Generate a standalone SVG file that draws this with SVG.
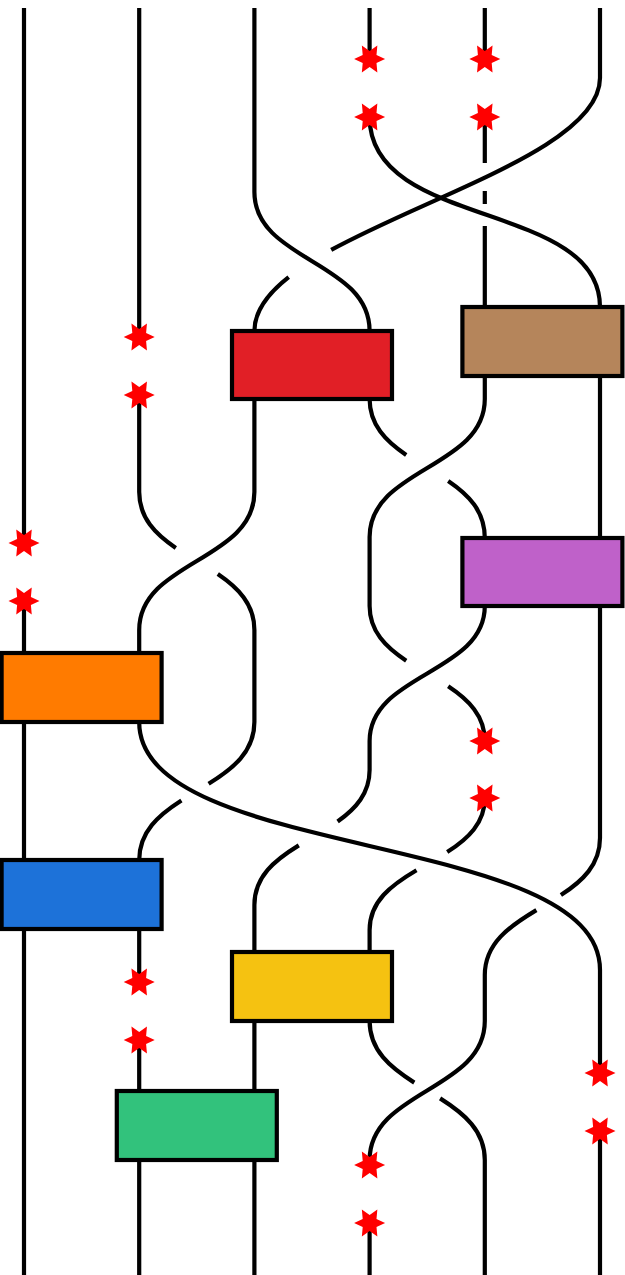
<svg xmlns="http://www.w3.org/2000/svg" xmlns:xlink="http://www.w3.org/1999/xlink" width="625" height="1275" viewBox="0 0 625 1275">
<style>
.w{fill:none;stroke:#000;stroke-width:4.2;stroke-linecap:butt;stroke-linejoin:round}
.box{stroke:#000;stroke-width:4.2}
.star{fill:#ff0000}
</style>
<defs>
<polygon id="star" class="star" points="15.5,0 6.9,4 7.75,13.4 0,8 -7.75,13.4 -6.9,4 -15.5,0 -6.9,-4 -7.75,-13.4 0,-8 7.75,-13.4 6.9,-4"/>
</defs>
<rect width="625" height="1275" fill="#fff"/>
<g id="connectors">
<path class="w" d="M24,8 V543 M24,601 V653 M24,722 V860 M24,929 V1275"/>
<path class="w" d="M139.2,8 V337"/>
<path class="w" d="M139.2,395 V492 C139.2,517.96 155.5,534.15 175.81,547.93"/>
<path class="w" d="M217.79,574.07 C238.1,587.85 254.4,604.04 254.4,630 V722 C254.4,751.7 233,768.7 208.6,783.8"/>
<path class="w" d="M181.4,800.4 C158.6,815 139.2,831.7 139.2,860"/>
<path class="w" d="M139.2,929 V982 M139.2,1040 V1091 M139.2,1160 V1275"/>
<path class="w" d="M254.4,8 V192 C254.4,261 369.6,261 369.6,331"/>
<path class="w" d="M254.4,399 V492 C254.4,561 139.2,561 139.2,630 V653"/>
<path class="w" d="M298.8,845.4 C275,860 254.4,876.4 254.4,905 V952"/>
<path class="w" d="M254.4,1021 V1091 M254.4,1160 V1275"/>
<path class="w" d="M369.6,8 V59"/>
<path class="w" d="M369.6,117 C369.6,230 600,200 600,307"/>
<path class="w" d="M369.6,399 C369.6,424.96 385.9,441.15 406.21,454.93"/>
<path class="w" d="M448.19,481.07 C468.5,494.85 484.8,511.04 484.8,538"/>
<path class="w" d="M484.8,376 V399 C484.8,468 369.6,468 369.6,537 V606 C369.6,631.39 385.9,647.23 406.21,660.71"/>
<path class="w" d="M448.19,686.29 C468.5,699.77 484.8,715.61 484.8,741"/>
<path class="w" d="M484.8,606 C484.8,673.5 369.6,673.5 369.6,741 V770 C369.6,793.4 355.7,808.7 337.6,821.5"/>
<path class="w" d="M484.8,798 C484.8,823.2 468,838.8 447.2,852.1"/>
<path class="w" d="M416.5,870.2 C391.7,884.8 369.6,901.1 369.6,930 V952"/>
<path class="w" d="M369.6,1021 C369.6,1050.5 390.4,1067.5 414.3,1082.6"/>
<path class="w" d="M440.1,1098.4 C464,1113.5 484.8,1130.5 484.8,1160 V1275"/>
<path class="w" d="M369.6,1223 V1275"/>
<path class="w" d="M484.8,8 V59 M484.8,117 V163 M484.8,191 V204 M484.8,226 V307"/>
<path class="w" d="M600,8 V78 C600,145.4 433.1,194 331.2,249.9"/>
<path class="w" d="M288.7,277.1 C267.5,293.7 254.4,311.1 254.4,331"/>
<path class="w" d="M600,376 V538"/>
<path class="w" d="M600,606 V838 C600,864.8 582.4,881.1 560.9,895.1"/>
<path class="w" d="M536.4,910.1 C509.7,926.1 484.8,943.2 484.8,975 V1021 C484.8,1090.5 369.6,1090.5 369.6,1160 V1165"/>
<path class="w" d="M139.2,722 C139.2,862 600,830 600,970 V1073"/>
<path class="w" d="M600,1131 V1275"/>
</g>
<g id="box-red"><rect class="box" x="232" y="331" width="160" height="68" fill="#E11F26"/></g>
<g id="box-brown"><rect class="box" x="462.4" y="307" width="160" height="69" fill="#B5855B"/></g>
<g id="box-purple"><rect class="box" x="462.4" y="538" width="160" height="68" fill="#BF61C9"/></g>
<g id="box-orange"><rect class="box" x="1.6" y="653" width="160" height="69" fill="#FF7B00"/></g>
<g id="box-blue"><rect class="box" x="1.6" y="860" width="160" height="69" fill="#1D72D9"/></g>
<g id="box-yellow"><rect class="box" x="232" y="952" width="160" height="69" fill="#F5C211"/></g>
<g id="box-green"><rect class="box" x="116.8" y="1091" width="160" height="69" fill="#32C27C"/></g>
<g id="stars">
<use xlink:href="#star" x="369.6" y="59"/>
<use xlink:href="#star" x="369.6" y="117"/>
<use xlink:href="#star" x="484.8" y="59"/>
<use xlink:href="#star" x="484.8" y="117"/>
<use xlink:href="#star" x="139.2" y="337"/>
<use xlink:href="#star" x="139.2" y="395"/>
<use xlink:href="#star" x="24" y="543"/>
<use xlink:href="#star" x="24" y="601"/>
<use xlink:href="#star" x="484.8" y="741"/>
<use xlink:href="#star" x="484.8" y="798"/>
<use xlink:href="#star" x="139.2" y="982"/>
<use xlink:href="#star" x="139.2" y="1040"/>
<use xlink:href="#star" x="600" y="1073"/>
<use xlink:href="#star" x="600" y="1131"/>
<use xlink:href="#star" x="369.6" y="1165"/>
<use xlink:href="#star" x="369.6" y="1223"/>
</g>
</svg>
